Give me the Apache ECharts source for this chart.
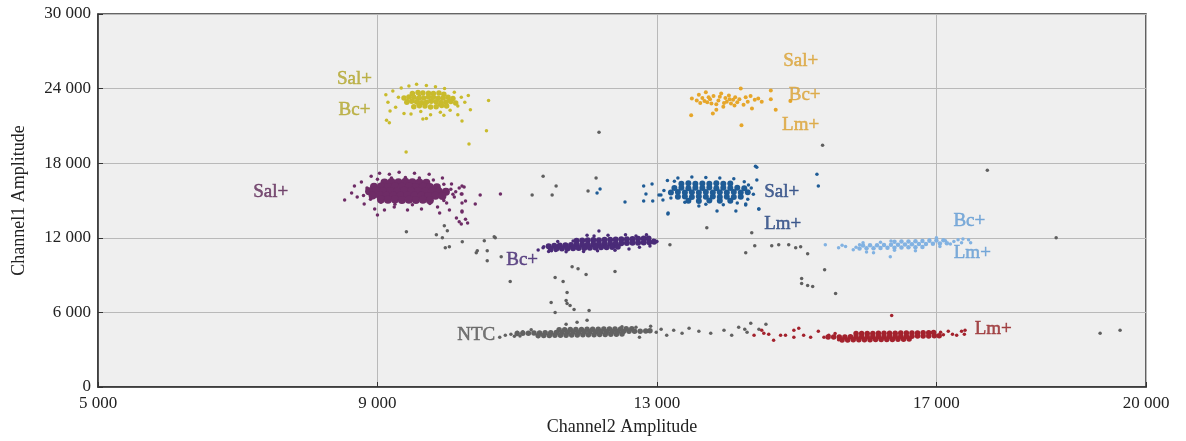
<!DOCTYPE html>
<html>
<head>
<meta charset="utf-8">
<title>ddPCR droplet plot</title>
<script src="https://cdn.jsdelivr.net/npm/echarts@6/dist/echarts.min.js"></script>
<style>
  html, body { margin: 0; padding: 0; background: #fff; }
  #main { width: 1186px; height: 441px; }
</style>
</head>
<body>
<div id="main"></div>
<script>
// 坐标轴
let xTicks = [5000, 9000, 13000, 17000, 20000]
let yTicks = [0, 6000, 12000, 18000, 24000, 30000]

// 每个液滴簇: core = 密集区, spread = 外围散点  [Channel2, Channel1]
let salBcCore = [[9500,23600],[9580,23680],[9650,23650],[9730,23620],[9800,23600],[9880,23640],[9950,23550],
  [9380,23250],[9450,23320],[9520,23300],[9590,23230],[9660,23250],[9730,23330],[9800,23300],[9870,23220],[9940,23250],[10010,23300],[10080,23200],
  [9420,22900],[9490,22980],[9560,22950],[9630,22870],[9700,22900],[9770,22990],[9840,22950],[9910,22880],[9980,22900],[10050,22960],[10120,22850],
  [9520,22550],[9600,22620],[9680,22600],[9760,22530],[9840,22550],[9920,22640],[9990,22600]]
let salBcSpread = [[9120,23500],[9150,22900],[9180,22200],[9220,23800],[9260,22500],[9300,23300],[9340,24050],
  [9380,22000],[9450,24200],[9480,21950],[9560,24350],[9620,22150],[9700,24250],[9760,21900],[9830,24150],
  [9900,22100],[9960,24000],[10040,22250],[10100,23700],[10150,22600],[10200,23300],[10250,22900],[10300,23450],
  [10330,22300],[9130,21450],[9170,21250],[9650,21550],[9700,21600],[9950,21850],[10150,21900],[9430,23050],
  [9600,23450],[9750,23050],[9880,22700],[10020,23050],[9580,22700],
  [10590,23050],[10560,20600],[10310,19550],[10210,21400],[9410,18900]]

let salBcLm = [[13490,21850],[13500,23200],[13570,23050],[13620,22850],[13650,23250],[13700,23700],[13720,22900],
  [13760,23150],[13800,22000],[13810,23400],[13850,22750],[13880,23050],[13920,23600],[13950,22550],[13980,23250],
  [14000,22950],[14030,23450],[14060,22800],[14090,23100],[14120,23300],[14150,22900],[14180,23150],[14200,24000],
  [14210,21050],[14240,22700],[14270,23300],[14300,22950],[14360,22400],[14400,23100],[14450,23200],[14630,23850],
  [14630,23150],[14700,22300],[14910,23000],[13740,23300],[13780,22800],[13900,23350],[13960,22850],[14040,23150],
  [14110,22650],[13680,23000],[14340,23400],[13600,23500],[14500,22950],[13850,22300]]

let salCore = [[9100,16450],[9200,16480],[9300,16460],[9400,16500],[9500,16470],[9600,16450],[9700,16420],
  [8950,16100],[9050,16130],[9150,16090],[9250,16120],[9350,16100],[9450,16130],[9550,16090],[9650,16110],[9750,16080],[9850,16060],
  [8880,15750],[8980,15780],[9080,15740],[9180,15770],[9280,15750],[9380,15780],[9480,15740],[9580,15760],[9680,15730],[9780,15750],[9880,15720],[9980,15700],
  [8930,15400],[9030,15420],[9130,15390],[9230,15410],[9330,15400],[9430,15420],[9530,15380],[9630,15400],[9730,15370],[9830,15380],[9930,15360],
  [9050,15080],[9150,15060],[9250,15090],[9350,15050],[9450,15070],[9550,15040],[9650,15060],[9750,15030]]
let salSpread = [[8530,15040],[8630,15600],[8670,16160],[8710,15280],[8770,16480],[8810,14720],[8860,15920],[8910,16960],
  [8960,14320],[9030,17200],[9100,14240],[9170,17120],[9240,14480],[9310,17280],[9430,14240],[9530,17200],[9630,14320],
  [9740,17120],[9860,14480],[9930,16800],[9990,14800],[10060,16320],[10100,15280],[10170,16000],[10210,15520],[10260,14960],
  [9890,14000],[10030,14240],[9000,13840],[10130,13600],[10170,13300],[10200,13100],[10260,13500],[10290,13200],[10210,14150],
  [10210,16160],[10240,16080],[10470,15440],[10760,15520],[10400,14720],[10210,14800],[10200,15520],[10210,14080],
  [8800,15400],[8850,16000],[8900,15100],[9000,16700],[9200,16800],[9400,16850],[9600,16800],[9800,16650],[9950,16300],
  [10050,15900],[10080,15500],[9950,15000],[9750,14750],[9500,14650],[9250,14700],[9050,14850],[8950,15500],[10120,15700]]

let bcCore = [[11850,11760],[11930,11790],[12010,11800],[12090,11820],[12170,11810],[12250,11840],[12330,11850],
  [12410,11870],[12490,11880],[12570,11890],[12650,11900],[12730,11920],[12810,11940],[12880,11950],
  [11450,11330],[11530,11360],[11610,11380],[11690,11400],[11770,11420],[11850,11440],[11930,11450],[12010,11470],
  [12090,11480],[12170,11500],[12250,11510],[12330,11530],[12410,11550],[12490,11560],[12570,11580],[12650,11600],
  [12730,11610],[12810,11630],[12890,11650],[12960,11680],
  [11480,11090],[11560,11110],[11640,11130],[11720,11140],[11800,11150],[11880,11170],[11960,11180],[12040,11200],
  [12120,11210],[12200,11230],[12280,11240],[12360,11260],[12440,11280]]
let bcSpread = [[11380,11280],[11300,11020],[11450,10900],[11580,11700],[11700,10880],[11800,11750],[11950,10900],[12150,10950],
  [12170,12550],[12100,12150],[12400,11000],[12300,12200],[12600,11100],[12700,12150],[12850,12250],[12900,11350],[12950,11800],
  [13000,11700],[11550,10980],[12000,12200],[12550,12250],[12750,11250],[11370,11200],[11490,10960]]

let salLmCore = [[13350,16350],[13450,16380],[13550,16340],[13650,16370],[13750,16350],[13850,16390],[13950,16340],[14050,16360],
  [13250,16000],[13350,16030],[13450,15990],[13550,16020],[13650,16000],[13750,16040],[13850,15990],[13950,16020],[14050,16000],[14150,16030],[14250,15990],
  [13200,15650],[13300,15680],[13400,15640],[13500,15670],[13600,15650],[13700,15690],[13800,15640],[13900,15670],[14000,15650],[14100,15680],[14200,15640],[14300,15660],
  [13300,15300],[13400,15330],[13500,15290],[13600,15320],[13700,15300],[13800,15330],[13900,15290],[14000,15310],[14100,15290],[14200,15300],
  [13450,14980],[13600,14960],[13750,14990],[13900,14970],[14050,14980]]
let salLmSpread = [[12810,16160],[12810,14960],[12930,16320],[12940,14960],[13030,15440],[13160,14000],[14310,16240],[14410,17760],
  [14430,16640],[14460,14320],[14270,14640],[14130,14160],[13860,14160],[15290,17120],[15310,16160],
  [12186,15920],[12143,15600],[12543,14880],[12843,15520],[13086,15040],[13057,15440],[13157,13920],
  [14429,17680],[14271,14720],[14457,14320],
  [13150,16600],[13300,16800],[13500,16900],[13700,16850],[13900,16800],[14100,16750],[14250,16500],[14350,16000],
  [14380,15500],[14300,15100],[14150,14800],[13950,14650],[13700,14700],[13400,14850],[13200,15200],[13100,15800],
  [13250,16550],[13600,14550]]

let bcLmCore = [[16400,11680],[16500,11700],[16600,11710],[16700,11730],[16800,11750],[16900,11770],[17000,11790],[17100,11810],
  [15950,11380],[16050,11400],[16150,11410],[16250,11430],[16350,11440],[16450,11450],[16550,11470],[16650,11480],
  [16750,11500],[16850,11510],[16950,11530],[17050,11550],[17150,11570],
  [15900,11130],[16000,11150],[16100,11160],[16200,11170],[16300,11190],[16400,11200],[16500,11220],[16600,11230],
  [16700,11250],[16800,11260]]
let bcLmSpread = [[15410,11440],[15600,11200],[15650,11400],[15700,11300],[15810,11040],[15850,11250],[15900,11450],[16000,10850],
  [16100,10800],[16200,11650],[16340,10480],[16400,11000],[16700,10950],[16900,11850],[17000,12000],[17130,11760],
  [17200,11500],[17250,11700],[17310,11840],[17360,11600],[17460,11840],[17490,11600],[17380,11900],[17050,11300],
  [16350,11750],[15950,11600]]

let ntcCore = [[11600,4600],[11680,4610],[11760,4620],[11840,4620],[11920,4630],[12000,4640],[12080,4640],[12160,4650],
  [12240,4660],[12320,4660],[12400,4670],[12480,4670],[12560,4680],[12640,4690],
  [11000,4300],[11080,4320],[11160,4330],[11240,4340],[11320,4350],[11400,4360],[11480,4370],[11560,4380],[11640,4390],
  [11720,4400],[11800,4400],[11880,4410],[11960,4420],[12040,4430],[12120,4430],[12200,4440],[12280,4450],[12360,4460],
  [12440,4460],[12520,4470],[12600,4480],[12680,4490],[12760,4490],[12840,4500],[12900,4520],
  [11300,4140],[11380,4150],[11460,4150],[11540,4160],[11620,4170],[11700,4170],[11780,4180],[11860,4190],[11940,4200],
  [12020,4200],[12100,4210],[12180,4220],[12260,4230],[12340,4240],[12420,4250],[12500,4260]]
let ntcSpread = [[10750,4000],[10830,4160],[10910,4240],[10960,4080],[11000,4400],[11040,4100],[11080,4450],
  [12910,4880],[12990,4400],[13060,4640],[13140,4160],[13240,4560],[13360,4320],[13460,4720],[13600,4480],
  [13770,4320],[13960,4560],[14070,4160],[14170,4800],[14290,4400],[14460,4640],[14560,5040],[12750,4000],
  [12700,4800],[12500,4850],[11200,4600],[11300,4050]]

let lmCore = [[15850,4300],[15930,4300],[16010,4310],[16090,4310],[16170,4320],[16250,4320],[16330,4330],[16410,4330],
  [16490,4340],[16570,4340],[16650,4350],[16730,4350],[16810,4360],[16890,4370],[16960,4380],
  [15450,4020],[15530,4020],[15610,4030],[15690,4030],[15770,4040],[15850,4040],[15930,4050],[16010,4050],[16090,4060],
  [16170,4060],[16250,4070],[16330,4070],[16410,4080],[16490,4080],[16570,4090],[16650,4090],[16730,4100],[16810,4100],
  [16890,4110],[16970,4120],[17040,4130],
  [15650,3790],[15730,3790],[15810,3800],[15890,3800],[15970,3810],[16050,3810],[16130,3820],[16210,3820],[16290,3830],
  [16370,3830],[16450,3840],[16530,3850],[16610,3860]]
let lmSpread = [[14390,4160],[14500,4560],[14530,4320],[14600,4240],[14670,3760],[14770,4160],[14840,4160],[14960,4560],
  [14960,4000],[15030,4720],[15100,4160],[15200,4000],[15310,4480],[15390,4000],[15460,4160],[16360,5760],
  [17060,4400],[17170,4480],[17230,4240],[17290,4160],[17360,4480],[17400,4240],[17410,4560],[15550,4300],
  [15600,3800],[17100,4200]]

// 不属于任何簇的散点
let strays = [[11786,9680],[11871,9520],[11986,9040],[11543,8800],[11657,8480],[11714,7600],[11700,6960],[11714,6720],
  [11757,6560],[11814,6240],[11486,6800],[11543,6000],[12029,6160],[12000,5360],[12400,9280],[10900,8480],
  [11700,5040],[11857,5200],
  [9957,12960],[10000,12560],[9843,12240],[9929,12000],[10214,11680],[10529,11760],[10686,12000],[9971,11200],
  [10029,11280],[10429,10960],[10571,10960],[10414,10800],[10571,10160],[10771,10480],[9414,12480],[10671,12080],
  [11371,16960],[11557,16160],[11214,15440],[11500,15440],[12129,16800],[12014,15760],[12171,20480],
  [14271,10800],[14400,11360],[14643,11360],[14743,11440],[14886,11440],[14986,11200],[15057,11280],[15157,10720],
  [15400,9440],[15071,8720],[15071,8320],[15157,8160],[15229,8080],[15557,7520],[17729,17440],[15371,19440],
  [18714,12000],[14343,5120],[14257,4640],[19343,4320],[19629,4560],[13186,11440],[13714,12800],[14357,12400]]

// 标注文字 [Channel2, Channel1, 文字, 所属簇]
let notes = [[8671,25040,'Sal+','salBc'],[8671,22480,'Bc+','salBc'],
  [15057,26480,'Sal+','salBcLm'],[15114,23760,'Bc+','salBcLm'],[15057,21280,'Lm+','salBcLm'],
  [7471,15920,'Sal+','sal'],[11071,10480,'Bc+','bc'],
  [14786,15920,'Sal+','salLm'],[14800,13360,'Lm+','salLm'],
  [17471,13600,'Bc+','bcLm'],[17514,11040,'Lm+','bcLm'],
  [10414,4400,'NTC','ntc'],[17814,4880,'Lm+','lm']]

let colors = {
  salBc: ['#c9bb2c', '#b3a62c'],
  salBcLm: ['#e6a62a', '#dba235'],
  sal: ['#6e2c66', '#5e2958'],
  bc: ['#4a2b78', '#432872'],
  salLm: ['#1f5c96', '#23427e'],
  bcLm: ['#82b2e2', '#619bd3'],
  ntc: ['#626262', '#555555'],
  lm: ['#a3222d', '#932326']
}

let fontFamily = "'Liberation Serif', 'DejaVu Serif', serif"

function fmt(v) {
  if (v < 1000) return String(v)
  return Math.floor(v / 1000) + ' ' + String(v % 1000).padStart(3, '0')
}

function dots(data, color, size, z) {
  return {
    type: 'scatter',
    data: data,
    symbolSize: size,
    itemStyle: { color: color, opacity: 1 },
    silent: true,
    z: z || 2
  }
}

let series = [
  dots(strays, '#5f5f5f', 3.5),
  dots(salBcSpread, colors.salBc[0], 3.5),
  dots(salBcCore, colors.salBc[0], 5.5),
  dots(salBcLm, colors.salBcLm[0], 4),
  dots(salSpread, colors.sal[0], 3.5),
  dots(salCore, colors.sal[0], 8),
  dots(bcSpread, colors.bc[0], 3.5),
  dots(bcCore, colors.bc[0], 6),
  dots(salLmSpread, colors.salLm[0], 3.5),
  dots(salLmCore, colors.salLm[0], 6),
  dots(bcLmSpread, colors.bcLm[0], 3.5),
  dots(bcLmCore, colors.bcLm[0], 4.5),
  dots(ntcSpread, colors.ntc[0], 3.5),
  dots(ntcCore, colors.ntc[0], 5.5),
  dots(lmSpread, colors.lm[0], 3.5),
  dots(lmCore, colors.lm[0], 5.5),
  {
    type: 'scatter',
    symbolSize: 1,
    itemStyle: { color: 'rgba(0,0,0,0)' },
    silent: true,
    z: 5,
    data: notes.map(n => ({
      value: [n[0], n[1]],
      label: {
        show: true,
        position: 'inside',
        offset: [0, 3],
        formatter: n[2],
        color: colors[n[3]][1],
        textBorderColor: colors[n[3]][1],
        textBorderWidth: 0.5,
        fontFamily: fontFamily,
        fontSize: 19
      }
    }))
  }
]

let myChart = echarts.init(document.getElementById('main'))

let option = {
  animation: false,
  backgroundColor: '#ffffff',
  grid: {
    left: 98, right: 40, top: 14, bottom: 52,
    show: true,
    backgroundColor: '#efefef',
    borderColor: '#333',
    borderWidth: 1.5
  },
  xAxis: {
    type: 'value',
    min: xTicks[0],
    max: xTicks[xTicks.length - 1],
    interval: xTicks[1] - xTicks[0],
    name: 'Channel2 Amplitude',
    nameLocation: 'middle',
    nameGap: 31,
    nameTextStyle: { color: '#222', fontFamily: fontFamily, fontSize: 18 },
    axisLine: { show: true, lineStyle: { color: '#333', width: 1.5 } },
    axisTick: { show: true, inside: true, length: 5, lineStyle: { color: '#333' } },
    axisLabel: { color: '#222', fontFamily: fontFamily, fontSize: 17, margin: 8, formatter: fmt },
    splitLine: { show: true, lineStyle: { color: '#b9b9b9', width: 1 } }
  },
  yAxis: {
    type: 'value',
    min: yTicks[0],
    max: yTicks[yTicks.length - 1],
    interval: yTicks[1] - yTicks[0],
    name: 'Channel1 Amplitude',
    nameLocation: 'middle',
    nameGap: 70,
    nameTextStyle: { color: '#222', fontFamily: fontFamily, fontSize: 18 },
    axisLine: { show: true, lineStyle: { color: '#333', width: 1.5 } },
    axisTick: { show: true, inside: true, length: 5, lineStyle: { color: '#333' } },
    axisLabel: { color: '#222', fontFamily: fontFamily, fontSize: 17, margin: 7, formatter: fmt },
    splitLine: { show: true, lineStyle: { color: '#b9b9b9', width: 1 } }
  },
  series: series
}

myChart.setOption(option)
</script>
</body>
</html>
